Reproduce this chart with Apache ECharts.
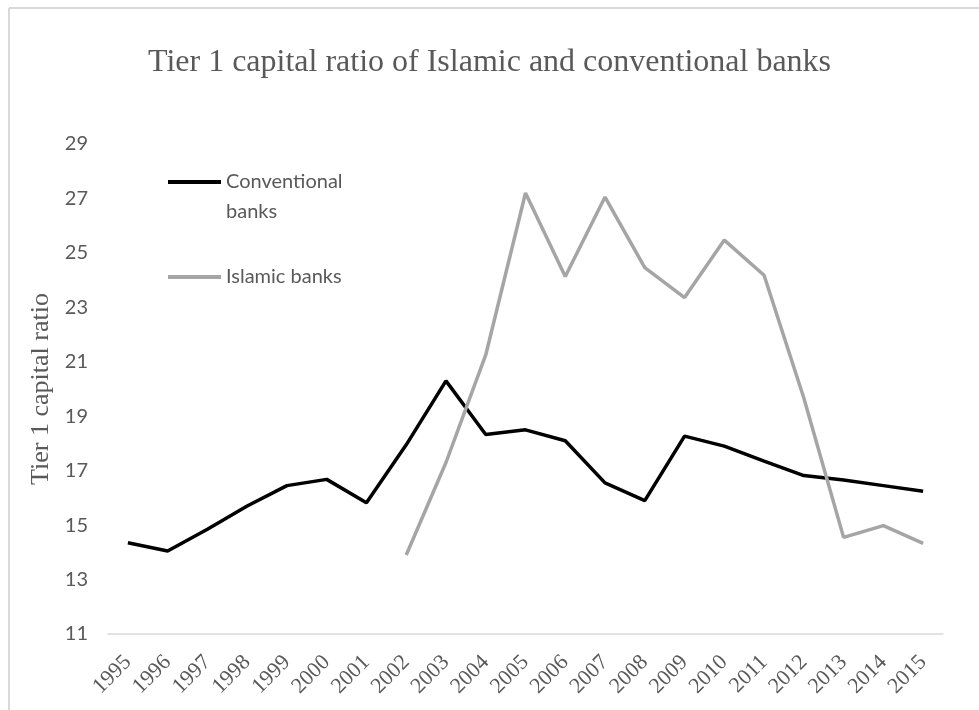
<!DOCTYPE html>
<html>
<head>
<meta charset="utf-8">
<script src="https://cdn.jsdelivr.net/npm/echarts@6/dist/echarts.min.js"></script>
<style>html,body{margin:0;padding:0;background:#fff}#c{width:979px;height:710px}</style>
</head>
<body>
<div id="c"></div>
<script>
const years = ['1995','1996','1997','1998','1999','2000','2001','2002','2003','2004','2005','2006','2007','2008','2009','2010','2011','2012','2013','2014','2015'];
const conventional = [14.35, 14.05, 14.85, 15.7, 16.45, 16.68, 15.82, 17.95, 20.3, 18.33, 18.5, 18.1, 16.55, 15.9, 18.27, 17.9, 17.35, 16.82, 16.66, 16.45, 16.24];
const islamic = [null, null, null, null, null, null, null, 13.9, 17.3, 21.25, 27.2, 24.13, 27.05, 24.46, 23.36, 25.47, 24.18, 19.67, 14.55, 14.98, 14.33];
const yTicks = {min: 11, max: 29, interval: 2};

const chart = echarts.init(document.getElementById('c'));
const grey = '#595959';
chart.setOption({
  animation: false,
  backgroundColor: '#fff',
  title: {
    text: 'Tier 1 capital ratio of Islamic and conventional banks',
    left: 'center', top: 47, padding: 0,
    textStyle: {fontFamily: 'Liberation Serif', fontSize: 32, fontWeight: 'normal', color: grey}
  },
  graphic: [
    {type: 'line', shape: {x1: 9, y1: 8, x2: 979, y2: 8}, style: {stroke: '#D9D9D9', lineWidth: 2}},
    {type: 'line', shape: {x1: 9, y1: 8, x2: 9, y2: 710}, style: {stroke: '#D9D9D9', lineWidth: 2}}
  ],
  legend: [
    {
      data: ['Conventional banks'], left: 163, top: 132, icon: 'rect', itemWidth: 53, itemHeight: 4, itemGap: 6,
      formatter: () => '\nConventional\nbanks',
      textStyle: {fontFamily: 'Lato', fontSize: 20, color: grey, lineHeight: 30}
    },
    {
      data: ['Islamic banks'], left: 163, top: 262, icon: 'rect', itemWidth: 53, itemHeight: 4, itemGap: 6,
      textStyle: {fontFamily: 'Lato', fontSize: 20, color: grey, lineHeight: 20}
    }
  ],
  grid: {left: 108, right: 36, top: 144, bottom: 76, containLabel: false},
  xAxis: {
    type: 'category', data: years, boundaryGap: true,
    axisLine: {lineStyle: {color: '#D9D9D9', width: 1.5}},
    axisTick: {show: false},
    axisLabel: {interval: 0, rotate: 45, margin: 25, fontFamily: 'Liberation Serif', fontSize: 22, color: grey}
  },
  yAxis: {
    type: 'value', min: yTicks.min, max: yTicks.max, interval: yTicks.interval,
    name: 'Tier 1 capital ratio', nameLocation: 'middle', nameGap: 54,
    nameTextStyle: {fontFamily: 'Liberation Serif', fontSize: 26, color: grey},
    axisLine: {show: false}, axisTick: {show: false}, splitLine: {show: false},
    axisLabel: {margin: 20, fontFamily: 'Lato', fontSize: 20, color: grey}
  },
  series: [
    {name: 'Conventional banks', type: 'line', data: conventional, symbol: 'none', lineStyle: {color: '#000', width: 3.5}, itemStyle: {color: '#000'}},
    {name: 'Islamic banks', type: 'line', data: islamic, symbol: 'none', connectNulls: false, lineStyle: {color: '#A5A5A5', width: 3.5}, itemStyle: {color: '#A5A5A5'}}
  ]
});
</script>
</body>
</html>
